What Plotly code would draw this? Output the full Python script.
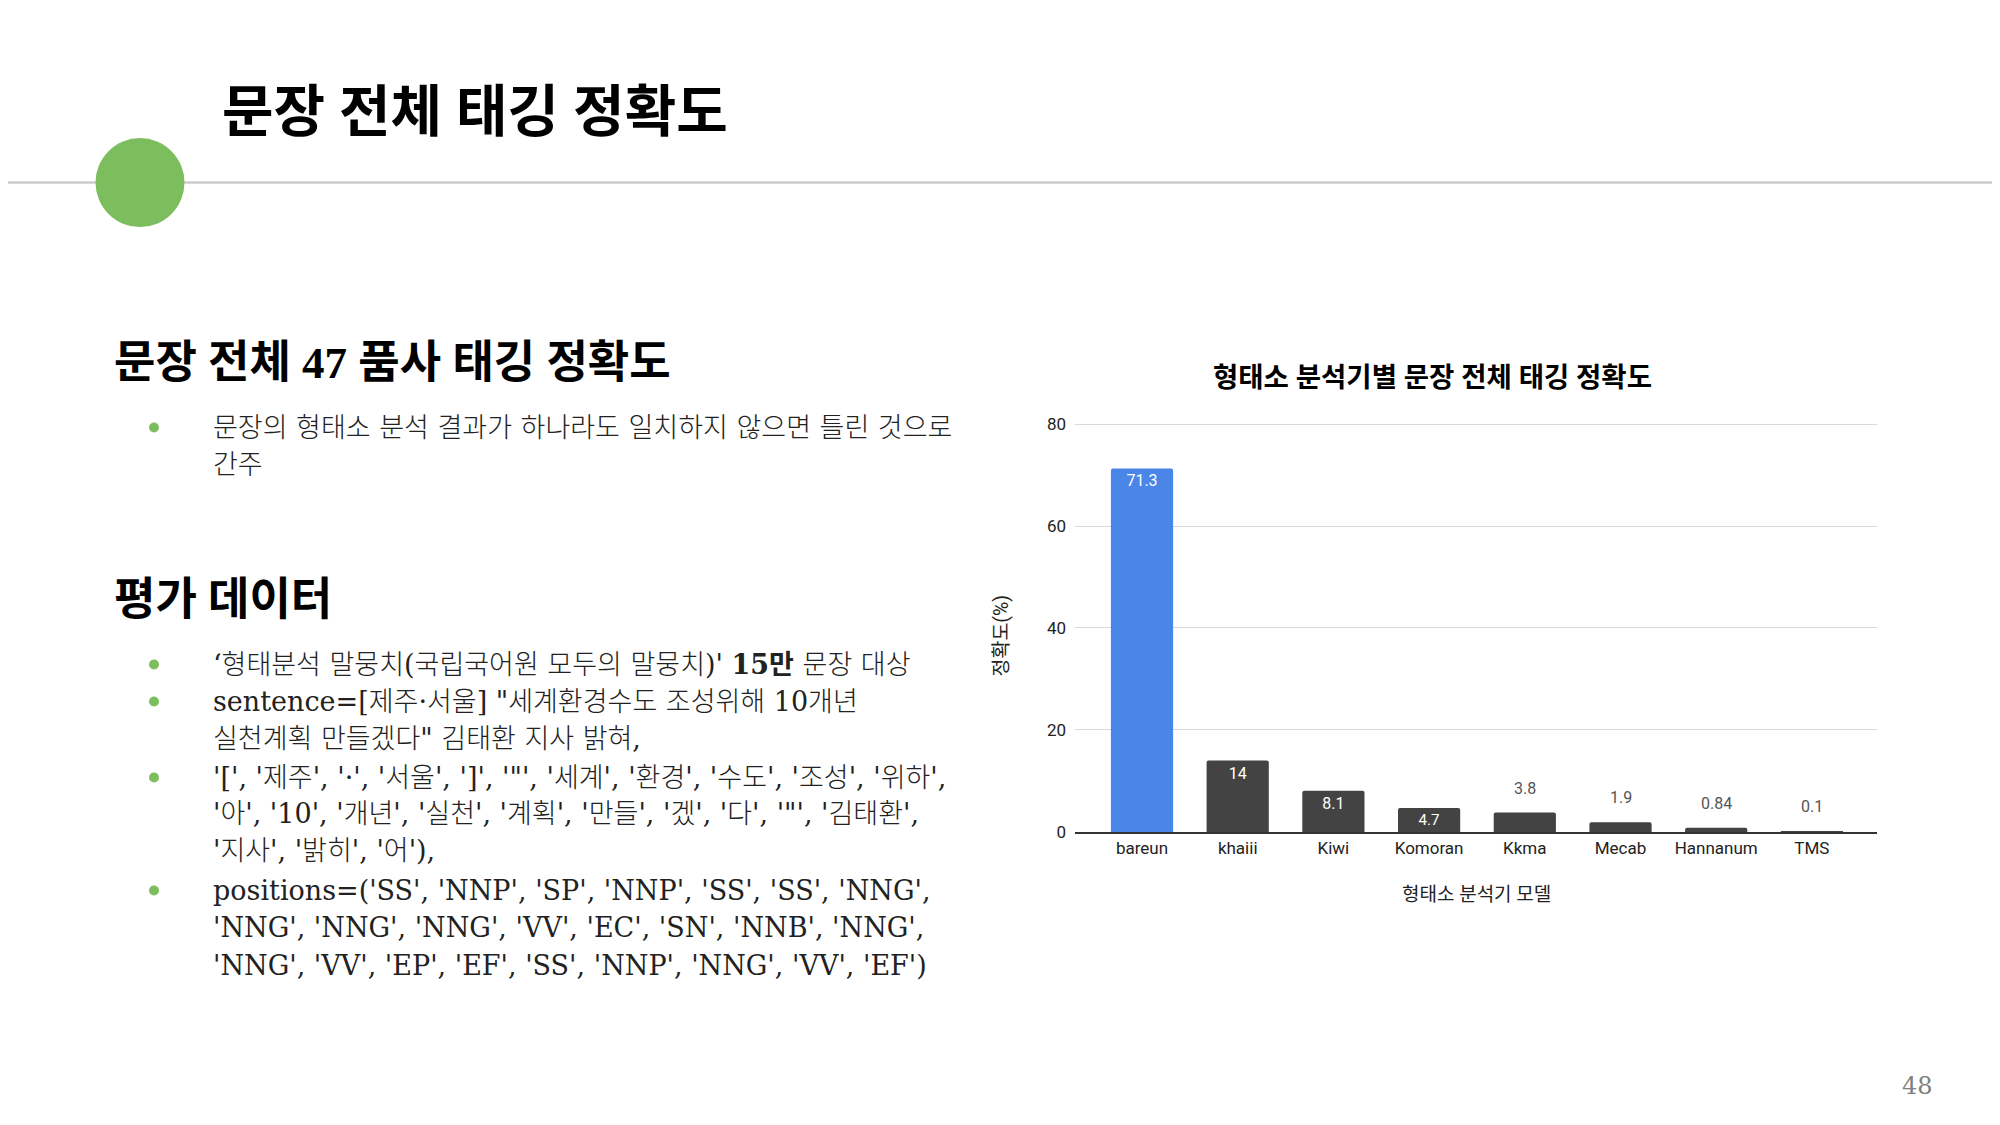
import plotly.graph_objects as go

# Chart data
models = ['bareun', 'khaiii', 'Kiwi', 'Komoran', 'Kkma', 'Mecab', 'Hannanum', 'TMS']
accuracy = [71.3, 14, 8.1, 4.7, 3.8, 1.9, 0.84, 0.1]
value_labels = ['71.3', '14', '8.1', '4.7', '3.8', '1.9', '0.84', '0.1']
y_ticks = [0, 20, 40, 60, 80]

# Slide text
slide_title = '문장 전체 태깅 정확도'
heading_1 = '문장 전체 47 품사 태깅 정확도'
bullets_1 = [
    (True, '문장의 형태소 분석 결과가 하나라도 일치하지 않으면 틀린 것으로'),
    (False, '간주'),
]
heading_2 = '평가 데이터'
bullets_2 = [
    (True, "‘형태분석 말뭉치(국립국어원 모두의 말뭉치)' <b>15만</b> 문장 대상"),
    (True, 'sentence=[제주·서울] "세계환경수도 조성위해 10개년'),
    (False, '실천계획 만들겠다" 김태환 지사 밝혀,'),
    (True, "'[', '제주', '·', '서울', ']', '\"', '세계', '환경', '수도', '조성', '위하',"),
    (False, "'아', '10', '개년', '실천', '계획', '만들', '겠', '다', '\"', '김태환',"),
    (False, "'지사', '밝히', '어'),"),
    (True, "positions=('SS', 'NNP', 'SP', 'NNP', 'SS', 'SS', 'NNG',"),
    (False, "'NNG', 'NNG', 'NNG', 'VV', 'EC', 'SN', 'NNB', 'NNG',"),
    (False, "'NNG', 'VV', 'EP', 'EF', 'SS', 'NNP', 'NNG', 'VV', 'EF')"),
]
chart_title = '형태소 분석기별 문장 전체 태깅 정확도'
x_title = '형태소 분석기 모델'
y_title = '정확도(%)'
page_number = '48'

# the page body keeps an 8px margin, so the figure is sized to sit inside it
PAGE_W, PAGE_H = 2000, 1125
OFF = 8
W, H = PAGE_W - 2 * OFF, PAGE_H - 2 * OFF
Y_SCALE, Y_SHIFT = 0.984, 6.5  # vertical fit measured against earlier renders


def px(x):
    return (x - OFF) / W


def py(y):
    page_y = (y - Y_SHIFT) / Y_SCALE
    return 1 - (page_y - OFF) / H


BLUE = '#4a86e8'
GRAY = '#434343'
GREEN = '#7cbd5d'
SANS = 'Roboto, Noto Sans CJK KR, sans-serif'
BODY = 'DejaVu Serif, Noto Sans CJK KR, serif'
HEAD = 'Liberation Serif, Noto Sans CJK KR, serif'

bar_colors = [BLUE if i == 0 else GRAY for i in range(len(models))]
inside = [v >= 4.5 for v in accuracy]

fig = go.Figure()
fig.add_trace(go.Bar(
    x=models,
    y=accuracy,
    text=[t if ins else '' for t, ins in zip(value_labels, inside)],
    textposition='inside',
    insidetextanchor='end',
    textfont=dict(family=SANS, size=16, color='#ffffff'),
    marker=dict(color=bar_colors, line_width=0, cornerradius=2),
    width=0.65,
    cliponaxis=False,
    hoverinfo='skip',
))

annotations = []

# value labels above the short bars
for m, v, t, ins in zip(models, accuracy, value_labels, inside):
    if not ins:
        annotations.append(dict(text=t, x=m, y=v, xref='x', yref='y',
                                xanchor='center', yanchor='bottom', yshift=13,
                                font=dict(family=SANS, size=16, color='#555555')))

# slide title
annotations.append(dict(text=f'<b>{slide_title}</b>', x=px(220), y=py(110),
                        xanchor='left', yanchor='middle',
                        font=dict(family=HEAD, size=56, color='#000000')))

# headings
annotations.append(dict(text=f'<b>{heading_1}</b>', x=px(112), y=py(361),
                        xanchor='left', yanchor='middle',
                        font=dict(family=HEAD, size=45, color='#000000')))
annotations.append(dict(text=f'<b>{heading_2}</b>', x=px(112), y=py(599),
                        xanchor='left', yanchor='middle',
                        font=dict(family=HEAD, size=45, color='#000000')))

shapes = []

# header rule and green disc
shapes.append(dict(type='line', xref='paper', yref='paper', x0=px(0), x1=px(PAGE_W),
                   y0=py(181), y1=py(181), line=dict(color='#cccccc', width=2.5)))
r = 44.5
shapes.append(dict(type='circle', xref='paper', yref='paper',
                   x0=px(140 - r), x1=px(140 + r), y0=py(181 + r), y1=py(181 - r),
                   fillcolor=GREEN, line_width=0))

body_lines = [(426, bullets_1[0]), (463, bullets_1[1])]
ys_2 = [663, 700, 737, 776, 812, 849, 889, 926, 964]
body_lines += list(zip(ys_2, bullets_2))

for y, (has_dot, line) in body_lines:
    annotations.append(dict(text=line, x=px(211), y=py(y), xanchor='left', yanchor='middle',
                            font=dict(family=BODY, size=27, color='#222222', weight=300)))
    if has_dot:
        d = 5
        shapes.append(dict(type='circle', xref='paper', yref='paper',
                           x0=px(154 - d), x1=px(154 + d), y0=py(y + d), y1=py(y - d),
                           fillcolor=GREEN, line_width=0))

# chart titles
annotations.append(dict(text=f'<b>{chart_title}</b>', x=px(1432), y=py(376),
                        xanchor='center', yanchor='middle',
                        font=dict(family=SANS, size=27.5, color='#000000')))
annotations.append(dict(text=x_title, x=px(1476), y=py(893),
                        xanchor='center', yanchor='middle',
                        font=dict(family=SANS, size=19, color='#222222')))
annotations.append(dict(text=y_title, x=px(1001), y=py(634), textangle=-90,
                        xanchor='center', yanchor='middle',
                        font=dict(family=SANS, size=19.5, color='#222222')))

# page number
annotations.append(dict(text=page_number, x=px(1917), y=py(1085),
                        xanchor='center', yanchor='middle',
                        font=dict(family=BODY, size=24, color='#808080')))

for a in annotations:
    a.setdefault('xref', 'paper')
    a.setdefault('yref', 'paper')
    a['showarrow'] = False

# keep a hair of room above 80 so its gridline is drawn
y_top = 80.4
y0_px, y80_px = 830.5, 422.5
y_top_px = y0_px - (y0_px - y80_px) * y_top / 80

fig.update_layout(
    width=W,
    height=H,
    margin=dict(l=0, r=0, t=0, b=0),
    paper_bgcolor='white',
    plot_bgcolor='white',
    showlegend=False,
    annotations=annotations,
    shapes=shapes,
    xaxis=dict(
        domain=[px(1075), px(1877)],
        range=[-0.7, len(models) - 1 + 0.68],
        showgrid=False,
        showline=True,
        linecolor='#333333',
        linewidth=1.5,
        ticks='',
        tickfont=dict(family=SANS, size=17, color='#222222'),
    ),
    yaxis=dict(
        domain=[py(y0_px), py(y_top_px)],
        range=[0, y_top],
        tickvals=y_ticks,
        showgrid=True,
        gridcolor='#d9d9d9',
        gridwidth=1.3,
        zeroline=False,
        showline=False,
        ticks='',
        ticklabelstandoff=8,
        tickfont=dict(family=SANS, size=17, color='#222222'),
    ),
)

fig.write_html('out.html')
